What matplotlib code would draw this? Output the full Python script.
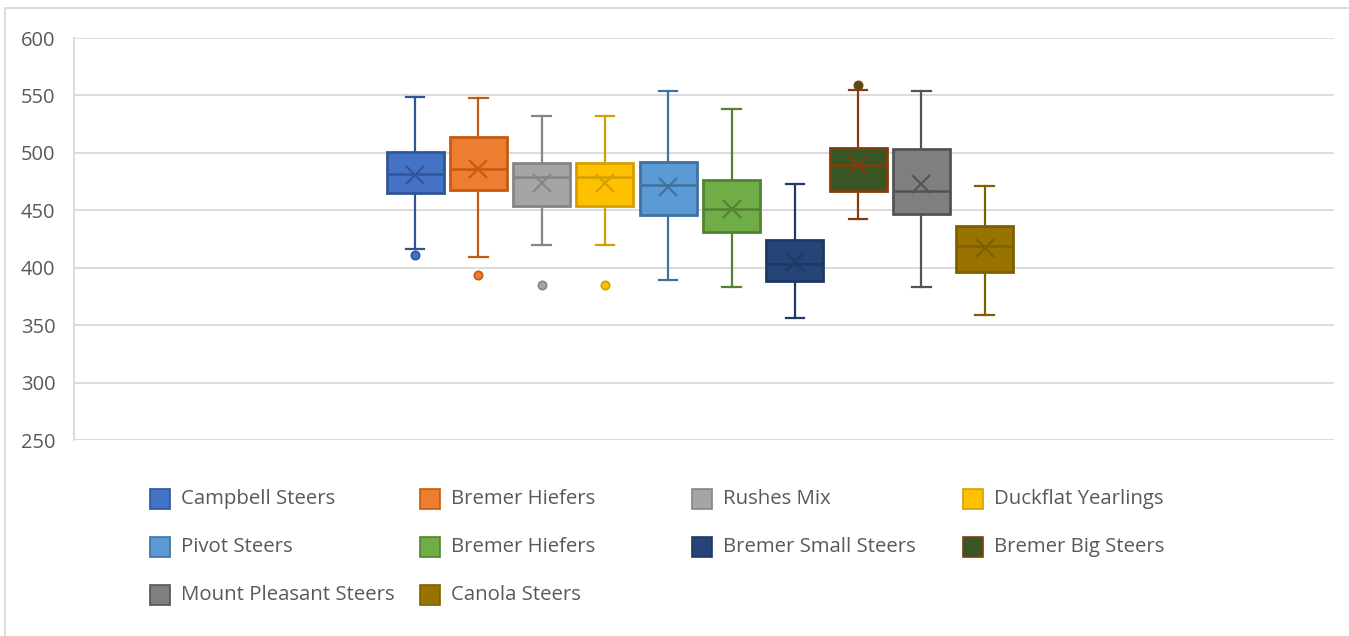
import matplotlib.pyplot as plt
from matplotlib.patches import Rectangle

# five-number summaries per herd (weights)
herds = ["Campbell Steers", "Bremer Hiefers", "Rushes Mix", "Duckflat Yearlings",
         "Pivot Steers", "Bremer Hiefers", "Bremer Small Steers", "Bremer Big Steers",
         "Mount Pleasant Steers", "Canola Steers"]
whis_lo = [416, 409, 420, 420, 389, 383, 356.5, 442.5, 383, 358.5]
q1 = [465, 468, 454, 454, 446, 431, 388, 467, 447, 396]
median = [482, 486, 479, 479, 472, 451.5, 403.5, 489, 467, 418.5]
q3 = [501, 514, 491, 491, 492, 476, 424, 504, 503, 436]
whis_hi = [549, 548, 532.5, 532.5, 553.5, 538, 472.5, 555, 554, 471]
means = [481, 486, 474, 474, 470.5, 451.5, 405, 489.5, 472.5, 417]
outliers = [[411], [394], [385], [385], [], [], [], [559], [], []]

face_colors = ["#4472C4", "#ED7D31", "#A5A5A5", "#FFC000", "#5B9BD5",
               "#70AD47", "#264478", "#375623", "#7F7F7F", "#997300"]
edge_colors = ["#2F5597", "#C55A11", "#858585", "#D4A000", "#41719C",
               "#548235", "#1F3864", "#843C0C", "#545454", "#7F6000"]

plt.rcParams['font.family'] = ['Open Sans', 'DejaVu Sans']

fig = plt.figure(figsize=(13.49, 6.36), dpi=100)
W, H = 1349, 636
ax = fig.add_axes([74 / W, 1 - 440 / H, (1334 - 74) / W, (440 - 38) / H])

stats = []
for i in range(len(herds)):
    stats.append(dict(med=median[i], q1=q1[i], q3=q3[i], whislo=whis_lo[i],
                      whishi=whis_hi[i], mean=means[i], fliers=outliers[i]))

pos = list(range(len(herds)))
bp = ax.bxp(stats, positions=pos, widths=0.9, capwidths=0.29, showmeans=True,
            patch_artist=True, manage_ticks=False)

for i in range(len(herds)):
    fc, ec = face_colors[i], edge_colors[i]
    box = bp['boxes'][i]
    box.set_facecolor(fc)
    box.set_edgecolor(ec)
    box.set_linewidth(2)
    box.set_zorder(3)
    bp['medians'][i].set(color=ec, linewidth=1.8, zorder=4)
    for ln in bp['whiskers'][2 * i:2 * i + 2] + bp['caps'][2 * i:2 * i + 2]:
        ln.set(color=ec, linewidth=1.6, zorder=2)
    bp['means'][i].set(marker='x', markeredgecolor=ec, markersize=13,
                       markeredgewidth=1.5, zorder=5)
    bp['fliers'][i].set(marker='o', markerfacecolor=fc, markeredgecolor=ec,
                        markersize=6, markeredgewidth=1.2, zorder=5)

ax.set_xlim(-5.39, 14.52)
ax.set_ylim(250, 600)
ax.set_yticks(range(250, 601, 50))
ax.set_xticks([])
ax.yaxis.grid(True, color="#D9D9D9", linewidth=1.3)
ax.set_axisbelow(True)
for s in ["top", "right", "bottom"]:
    ax.spines[s].set_visible(False)
ax.spines["left"].set_color("#D9D9D9")
ax.spines["left"].set_linewidth(1.3)
ax.tick_params(axis='y', length=0, pad=13.5, labelsize=14.5, labelcolor="#595959")

# chart border
fig.patches.append(Rectangle((5 / W, -0.1), 1.2, 1 - 8 / H + 0.1,
                             transform=fig.transFigure, fill=False,
                             edgecolor="#D9D9D9", linewidth=1.3))

# legend laid out in rows of four
col_x = [150, 420, 692, 963]
row_y = [499, 547, 595]
for k, name in enumerate(herds):
    r, c = divmod(k, 4)
    x0, yc = col_x[c], row_y[r]
    fig.patches.append(Rectangle((x0 / W, 1 - (yc + 10) / H), 20 / W, 20 / H,
                                 transform=fig.transFigure, facecolor=face_colors[k],
                                 edgecolor=edge_colors[k], linewidth=1.2))
    fig.text((x0 + 31) / W, 1 - yc / H, name, fontsize=14.7, color="#595959",
             va='center', ha='left')

fig.savefig("out.png", dpi=100)
